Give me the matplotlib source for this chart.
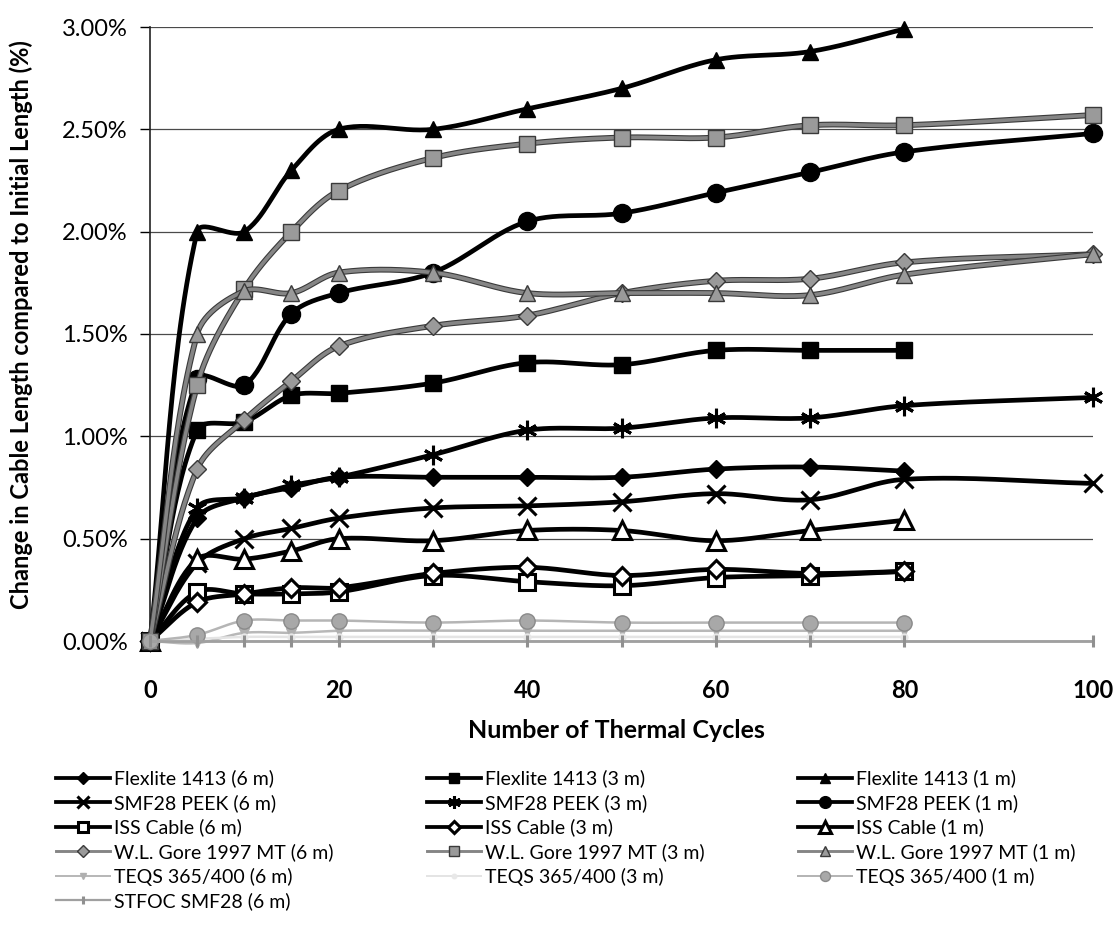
import numpy as np
import matplotlib
matplotlib.use("Agg")
import matplotlib.pyplot as plt
import matplotlib.patheffects as pe
from matplotlib.lines import Line2D
from matplotlib.ticker import FuncFormatter

plt.rcParams['font.family'] = ['Lato', 'DejaVu Sans']

# thermal cycles
x80 = [0, 5, 10, 15, 20, 30, 40, 50, 60, 70, 80]
x100 = [0, 5, 10, 15, 20, 30, 40, 50, 60, 70, 80, 100]

# change in length (%)
flex6 = [0, 0.60, 0.70, 0.75, 0.80, 0.80, 0.80, 0.80, 0.84, 0.85, 0.83]
flex3 = [0, 1.03, 1.07, 1.20, 1.21, 1.26, 1.36, 1.35, 1.42, 1.42, 1.42]
flex1 = [0, 2.00, 2.00, 2.30, 2.50, 2.50, 2.60, 2.70, 2.84, 2.88, 2.99]
smf6 = [0, 0.38, 0.50, 0.55, 0.60, 0.65, 0.66, 0.68, 0.72, 0.69, 0.79, 0.77]
smf3 = [0, 0.65, 0.70, 0.76, 0.80, 0.91, 1.03, 1.04, 1.09, 1.09, 1.15, 1.19]
smf1 = [0, 1.28, 1.25, 1.60, 1.70, 1.80, 2.05, 2.09, 2.19, 2.29, 2.39, 2.48]
iss6 = [0, 0.24, 0.23, 0.23, 0.24, 0.32, 0.29, 0.27, 0.31, 0.32, 0.34]
iss3 = [0, 0.19, 0.23, 0.26, 0.26, 0.33, 0.36, 0.32, 0.35, 0.33, 0.34]
iss1 = [0, 0.40, 0.40, 0.44, 0.50, 0.49, 0.54, 0.54, 0.49, 0.54, 0.59]
gore6 = [0, 0.84, 1.08, 1.27, 1.44, 1.54, 1.59, 1.70, 1.76, 1.77, 1.85, 1.89]
gore3 = [0, 1.25, 1.72, 2.00, 2.20, 2.36, 2.43, 2.46, 2.46, 2.52, 2.52, 2.57]
gore1 = [0, 1.50, 1.71, 1.70, 1.80, 1.80, 1.70, 1.70, 1.70, 1.69, 1.79, 1.89]
teqs6 = [0, -0.01, 0.04, 0.04, 0.05, 0.05, 0.05, 0.05, 0.05, 0.05, 0.05]
teqs3 = [0, 0.01, 0.02, 0.02, 0.02, 0.02, 0.02, 0.02, 0.02, 0.02, 0.02]
teqs1 = [0, 0.03, 0.10, 0.10, 0.10, 0.09, 0.10, 0.09, 0.09, 0.09, 0.09]
stfoc = [0, 0.00, 0.00, 0.00, 0.00, 0.00, 0.00, 0.00, 0.00, 0.00, 0.00, 0.00]

yticks = [0, 0.5, 1.0, 1.5, 2.0, 2.5, 3.0]
xticks = [0, 20, 40, 60, 80, 100]

# pixels per data unit, used so the smoothing behaves like it does on screen
SX, SY = 943 / 100, 614 / 3.0


def smooth(xs, ys, n=30):
    # excel-like smoothed line: bezier segments, tangent split by segment length
    p = np.column_stack([np.array(xs) * SX, np.array(ys) * SY]).astype(float)
    out = [p[:1]]
    t = np.linspace(0, 1, n)[1:, None]
    d = np.hypot(*np.diff(p, axis=0).T)
    m = len(p)
    for i in range(m - 1):
        p1, p2 = p[i], p[i + 1]
        if i > 0:
            c1 = p1 + (p2 - p[i - 1]) * d[i] / (d[i - 1] + d[i]) / 3
        else:
            c1 = p1 + (p2 - p1) / 3
        if i + 2 < m:
            c2 = p2 - (p[i + 2] - p1) * d[i] / (d[i] + d[i + 1]) / 3
        else:
            c2 = p2 - (p2 - p1) / 3
        seg = (1 - t)**3 * p1 + 3 * (1 - t)**2 * t * c1 + 3 * (1 - t) * t**2 * c2 + t**3 * p2
        out.append(seg)
    c = np.vstack(out)
    return c[:, 0] / SX, c[:, 1] / SY


gray = '#858585'
gray_edge = [pe.Stroke(linewidth=4.2, foreground='#3a3a3a'), pe.Normal()]

# label, x, y, line color, lw, marker, ms, face, edge, effects
series = [
    ('Flexlite 1413 (6 m)', x80, flex6, 'black', 3.4, 'D', 9, 'black', 'black', None),
    ('SMF28 PEEK (6 m)', x100, smf6, 'black', 3.4, 'x', 13, 'black', 'black', None),
    ('ISS Cable (6 m)', x80, iss6, 'black', 3.4, 's', 12, 'white', 'black', None),
    ('W.L. Gore 1997 MT (6 m)', x100, gore6, gray, 2.6, 'D', 9, '#9a9a9a', '#3a3a3a', gray_edge),
    ('TEQS 365/400 (6 m)', x80, teqs6, '#b8b8b8', 1.8, 'v', 7, '#b0b0b0', '#b0b0b0', None),
    ('STFOC SMF28 (6 m)', x100, stfoc, '#a0a0a0', 2.0, '|', 9, '#909090', '#909090', None),
    ('Flexlite 1413 (3 m)', x80, flex3, 'black', 3.4, 's', 11, 'black', 'black', None),
    ('SMF28 PEEK (3 m)', x100, smf3, 'black', 3.4, (6, 2, 0), 14, 'black', 'black', None),
    ('ISS Cable (3 m)', x80, iss3, 'black', 3.4, 'D', 9, 'white', 'black', None),
    ('W.L. Gore 1997 MT (3 m)', x100, gore3, gray, 2.6, 's', 12, '#9a9a9a', '#3a3a3a', gray_edge),
    ('TEQS 365/400 (3 m)', x80, teqs3, '#e4e4e4', 1.8, 'o', 5, '#e8e8e8', '#e8e8e8', None),
    ('Flexlite 1413 (1 m)', x80, flex1, 'black', 3.4, '^', 12, 'black', 'black', None),
    ('SMF28 PEEK (1 m)', x100, smf1, 'black', 3.4, 'o', 13, 'black', 'black', None),
    ('ISS Cable (1 m)', x80, iss1, 'black', 3.4, '^', 13, 'white', 'black', None),
    ('W.L. Gore 1997 MT (1 m)', x100, gore1, gray, 2.6, '^', 12, '#9a9a9a', '#3a3a3a', gray_edge),
    ('TEQS 365/400 (1 m)', x80, teqs1, '#b5b5b5', 1.8, 'o', 11, '#a8a8a8', '#8a8a8a', None),
]
draw_order = [0, 6, 11, 1, 7, 12, 2, 8, 13, 3, 9, 14, 4, 10, 15, 5]

fig = plt.figure(figsize=(11.13, 9.36), dpi=100)
ax = fig.add_axes([150 / 1113, 1 - 641 / 936, (1093 - 150) / 1113, (641 - 27) / 936])

handles = []
for k, s in enumerate(series):
    label, xs, ys, col, lw, mk, ms, fc, ec, eff = s
    cx, cy = smooth(xs, ys)
    z = 3 + draw_order.index(k) * 0.1
    ln, = ax.plot(cx, cy, color=col, lw=lw, zorder=z, solid_capstyle='round', clip_on=False)
    mew = 2.2 if fc == 'white' or mk in ('x', '|') or isinstance(mk, tuple) else 1.0
    ax.plot(xs, ys, linestyle='none', marker=mk, ms=ms, mfc=fc, mec=ec, mew=mew,
            zorder=z + 0.05, clip_on=False)
    if eff is not None:
        ln.set_path_effects(eff)
    h = Line2D([], [], color=col, lw=lw * 0.8, marker=mk, ms=ms, mfc=fc, mec=ec, mew=mew)
    handles.append(h)

ax.set_xlim(0, 100)
ax.set_ylim(0, 3.0)
ax.set_xticks(xticks)
ax.set_yticks(yticks)
ax.yaxis.set_major_formatter(FuncFormatter(lambda v, p: '{:.2f}%'.format(v)))
ax.grid(axis='y', color='#4a4a4a', lw=0.9)
ax.set_axisbelow(True)
for sp in ['top', 'right']:
    ax.spines[sp].set_visible(False)
ax.spines['left'].set_color('#222222')
ax.spines['left'].set_linewidth(1.2)
ax.spines['bottom'].set_color('#777777')
ax.spines['bottom'].set_linewidth(1.0)
ax.tick_params(axis='y', direction='out', length=7, width=1, pad=9, labelsize=17)
ax.tick_params(axis='x', direction='out', length=0, pad=27, labelsize=17)
for t in ax.get_xticklabels():
    t.set_fontweight('bold')

ax.set_xlabel('Number of Thermal Cycles', fontsize=18, fontweight='bold')
ax.xaxis.set_label_coords(0.495, (641 - 719) / 614)
ax.set_ylabel('Change in Cable Length compared to Initial Length (%)', fontsize=17,
              fontweight='bold')
ax.yaxis.set_label_coords((33 - 150) / 943, (641 - 325) / 614)

fig.legend(handles=handles, labels=[s[0] for s in series],
           ncol=3, loc='upper left', bbox_to_anchor=(38 / 1113, 1 - 752 / 936),
           frameon=False, fontsize=14, handlelength=2.8, handletextpad=0.2,
           columnspacing=4.8, labelspacing=0.34, markerscale=0.65)

fig.savefig('out.png', dpi=100, facecolor='white')
